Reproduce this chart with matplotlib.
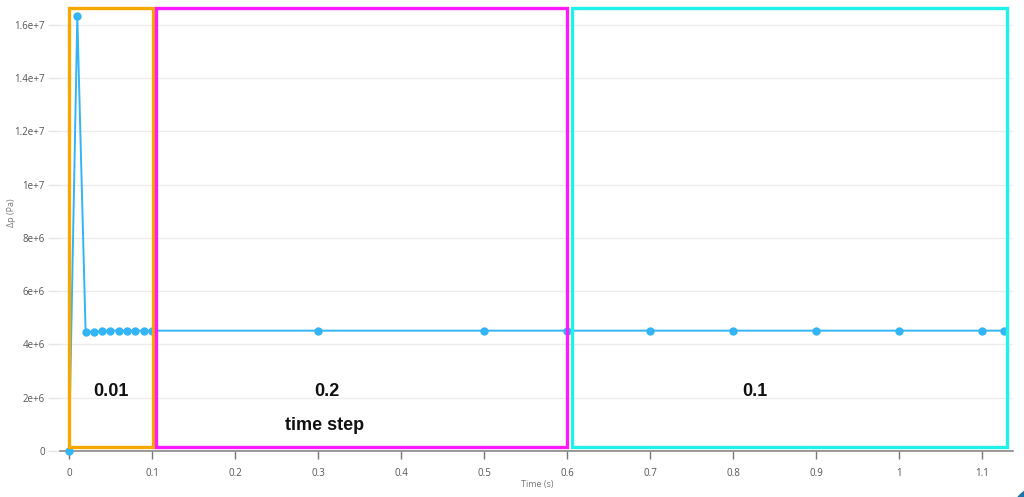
import matplotlib
matplotlib.use("Agg")
import matplotlib.pyplot as plt
from matplotlib.patches import Rectangle, Ellipse

# ---- data ----
time_s = [0.0, 0.01, 0.02, 0.03, 0.04, 0.05, 0.06, 0.07, 0.08, 0.09, 0.10,
          0.30, 0.50, 0.60, 0.70, 0.80, 0.90, 1.00, 1.10, 1.126]
dp_pa = [0.0, 1.632e7, 4.48e6, 4.48e6, 4.51e6, 4.52e6, 4.52e6, 4.52e6, 4.52e6, 4.52e6, 4.52e6,
         4.52e6, 4.52e6, 4.52e6, 4.52e6, 4.52e6, 4.52e6, 4.52e6, 4.52e6, 4.52e6]
x_ticks = [0, 0.1, 0.2, 0.3, 0.4, 0.5, 0.6, 0.7, 0.8, 0.9, 1.0, 1.1]
x_tick_labels = ["0", "0.1", "0.2", "0.3", "0.4", "0.5", "0.6", "0.7", "0.8", "0.9", "1", "1.1"]
y_ticks = [0, 2e6, 4e6, 6e6, 8e6, 1e7, 1.2e7, 1.4e7, 1.6e7]
y_tick_labels = ["0", "2e+6", "4e+6", "6e+6", "8e+6", "1e+7", "1.2e+7", "1.4e+7", "1.6e+7"]
region_labels = ["0.01", "0.2", "0.1"]

W, H = 1024, 497
fig = plt.figure(figsize=(W / 100, H / 100), dpi=100)
fig.patch.set_facecolor("white")

ax = fig.add_axes([60 / W, (H - 451) / H, (1013 - 60) / W, (451 - 7) / H])
ax.set_xlim(-0.01084, 1.1373)
ax.set_ylim(0, 1.6676e7)

ax.plot(time_s, dp_pa, color="#33b4f5", lw=1.4, marker="o", ms=5,
        markerfacecolor="#33b4f5", markeredgecolor="#33b4f5", zorder=3, clip_on=False)

for s in ["top", "right", "left"]:
    ax.spines[s].set_visible(False)
ax.spines["bottom"].set_color("#888888")
ax.spines["bottom"].set_linewidth(1.2)

ax.set_xticks(x_ticks)
ax.set_xticklabels(x_tick_labels)
ax.set_yticks(y_ticks)
ax.set_yticklabels(y_tick_labels)
ax.tick_params(axis="x", direction="out", length=6, width=1, color="#777777",
               labelsize=7, labelcolor="#555555", pad=6)
ax.tick_params(axis="y", direction="out", length=9, width=1, color="#e6e6e6",
               labelsize=7, labelcolor="#555555", pad=2)
for t in ax.get_xticklabels() + ax.get_yticklabels():
    t.set_fontfamily("Open Sans")

ax.yaxis.grid(True, color="#ececec", lw=1)
ax.set_axisbelow(True)

fig.text(537 / W, 1 - 484 / H, "Time (s)", ha="center", va="center",
         fontsize=6.5, color="#777777", family="Open Sans")
fig.text(12 / W, 1 - 213 / H, "Δp (Pa)", ha="center", va="center", rotation=90,
         fontsize=6.5, color="#777777", family="Open Sans")

# ---- annotation boxes (pixel coords) ----
def box(x0, y0, x1, y1, color):
    r = Rectangle((x0 / W, 1 - y1 / H), (x1 - x0) / W, (y1 - y0) / H,
                  transform=fig.transFigure, fill=False, edgecolor=color, lw=2.4, zorder=5)
    fig.add_artist(r)

box(69, 8, 152.5, 446.5, "#f7a800")
box(156, 8, 566.5, 446.5, "#ff19ff")
box(571.5, 8, 1007, 446.5, "#1ff2ea")

def label(x, y, s):
    fig.text(x / W, 1 - y / H, s, ha="center", va="center", fontsize=13,
             fontweight="bold", family="Liberation Sans", color="#111111")

label(111, 392, region_labels[0])
label(327, 392, region_labels[1])
label(325, 426, "time step")
label(755, 392, region_labels[2])

# chat-bubble corner artefact
c = Ellipse((1045 / W, 1 - 520 / H), 72 / W, 72 / H, transform=fig.transFigure,
            facecolor="#1c75a8", edgecolor="none", zorder=6)
fig.add_artist(c)

fig.savefig("out.png", dpi=100)
